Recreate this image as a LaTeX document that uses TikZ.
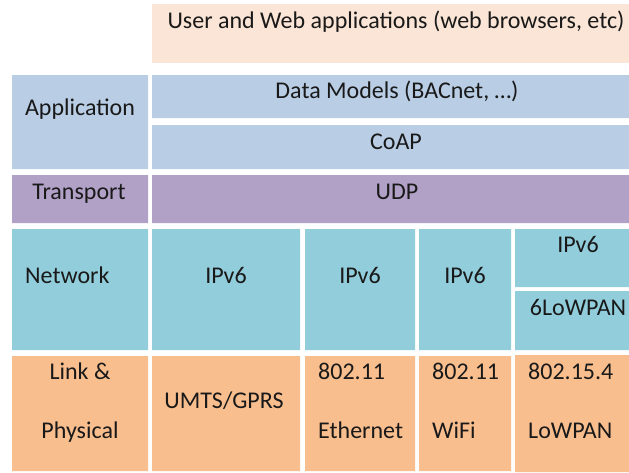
\documentclass[tikz,border=0pt]{standalone}
\usepackage{fontspec}
\setmainfont{Carlito}
\usepackage{tikz}
\definecolor{userc}{HTML}{FBE5D6}
\definecolor{appc}{HTML}{B9CDE5}
\definecolor{transc}{HTML}{B2A1C7}
\definecolor{netc}{HTML}{92CDDC}
\definecolor{linkc}{HTML}{F9BE8E}

\begin{document}
\begin{tikzpicture}[x=1pt,y=-1pt,every node/.style={font=\fontsize{24}{28}\selectfont,inner sep=0,anchor=base,text=black!90}]
        \useasboundingbox (0,0) rectangle (629,472);
        \fill[userc] (152,4) rectangle (629,63);
        \fill[appc] (12,75) rectangle (148,169) (152,75) rectangle (629,118) (152,125) rectangle (629,169);
        \fill[transc] (12,175) rectangle (148,223) (152,175) rectangle (629,223);
        \fill[netc] (12,229) rectangle (148,350) (152,229) rectangle (300,350) (305,229) rectangle (415,350)
          (419,229) rectangle (511,350) (515,229) rectangle (629,287) (515,291) rectangle (629,350);
        \fill[linkc] (12,356) rectangle (148,471) (152,356) rectangle (300,471) (305,356) rectangle (415,471)
          (419,356) rectangle (511,471) (515,355) rectangle (629,472);
        \node (user) at (396,28) {User and Web applications (web browsers, etc)};
        \node (app) at (80,115) {Application};
        \node (dm) at (397,98) {Data Models (BACnet, …)};
        \node (coap) at (396,149) {CoAP};
        \node (trans) at (79,199) {Transport};
        \node (udp) at (397,199) {UDP};
        \node[anchor=base west] (net) at (25,283) {Network};
        \node (ip1) at (226,283) {IPv6};
        \node (ip2) at (360,283) {IPv6};
        \node (ip3) at (465,283) {IPv6};
        \node (ip4) at (578,252) {IPv6};
        \node (6lo) at (578,315) {6LoWPAN};
        \node (link) at (80,379) {Link \&};
        \node (phy) at (80,438) {Physical};
        \node (umts) at (224,408) {UMTS/GPRS};
        \node[anchor=base west] (eth1) at (318,379) {802.11};
        \node[anchor=base west] (eth2) at (318,438) {Ethernet};
        \node[anchor=base west] (wifi1) at (432,379) {802.11};
        \node[anchor=base west] (wifi2) at (432,438) {WiFi};
        \node[anchor=base west] (lp1) at (528,379) {802.15.4};
        \node[anchor=base west] (lp2) at (528,438) {LoWPAN};
      \end{tikzpicture}
\end{document}
